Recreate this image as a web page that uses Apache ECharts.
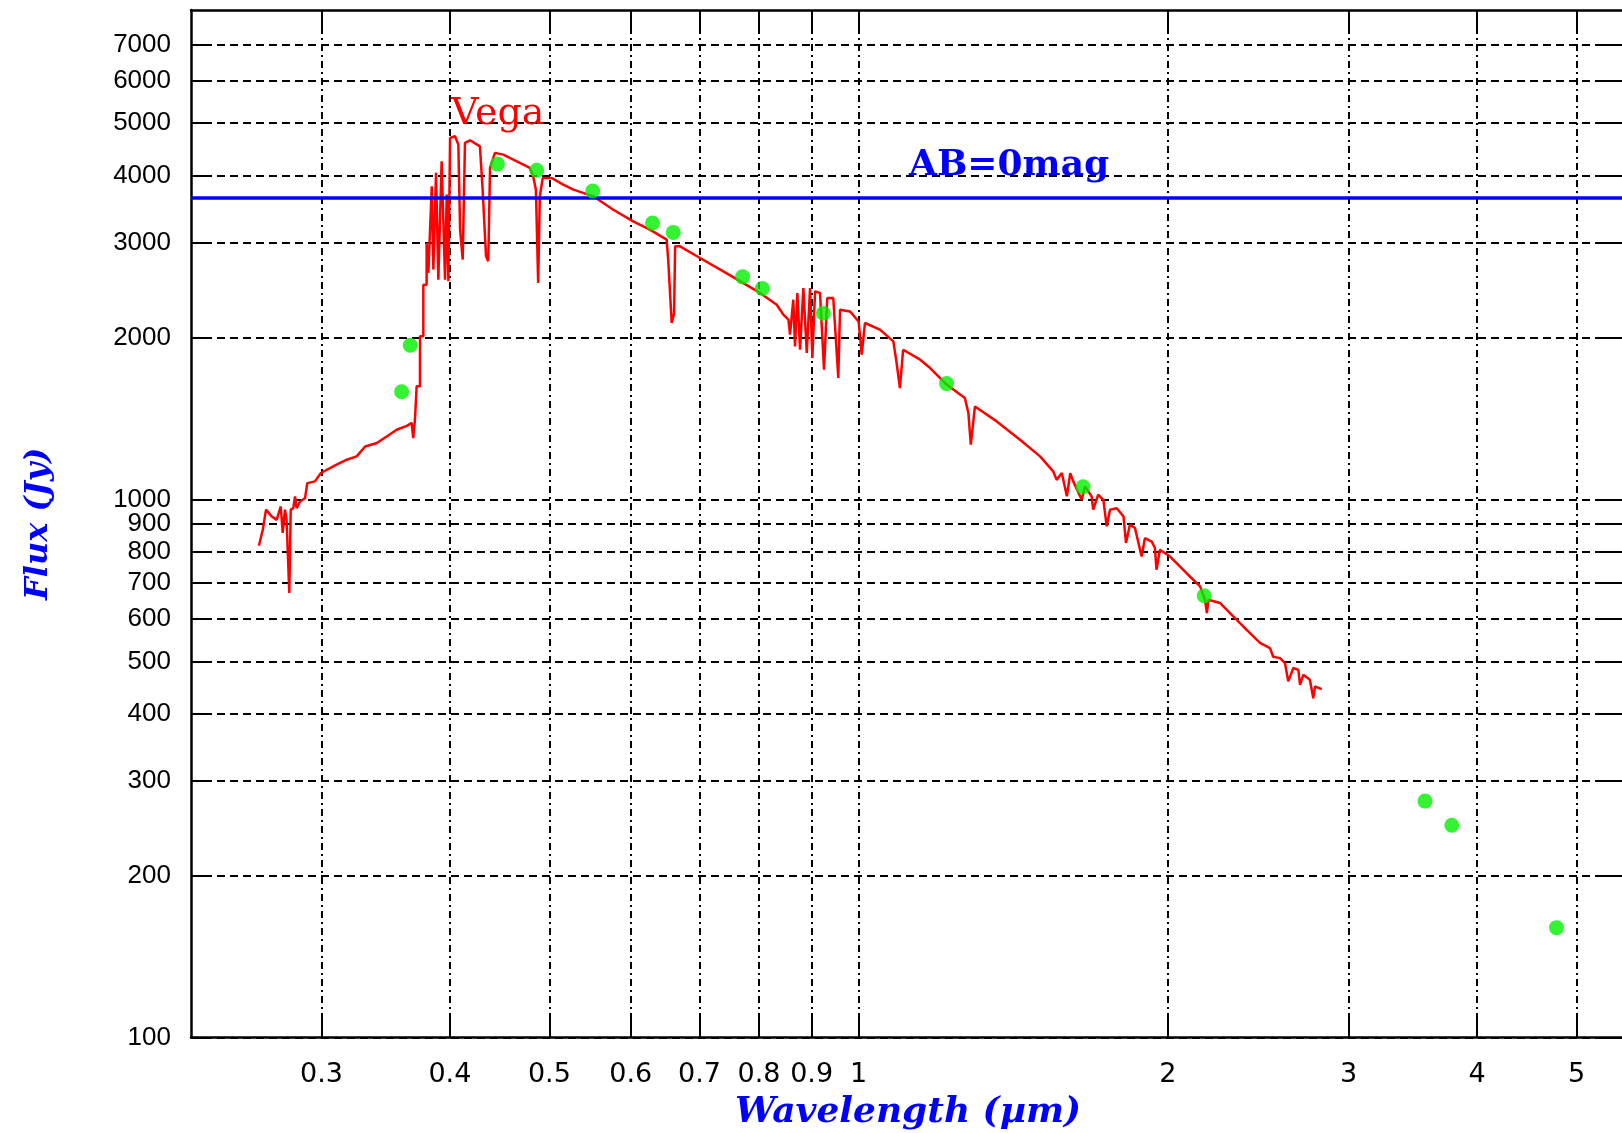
<!DOCTYPE html>
<html>
<head>
<meta charset="utf-8">
<title>Vega</title>
<script src="https://cdn.jsdelivr.net/npm/echarts@6/dist/echarts.min.js"></script>
<style>
  html, body { margin: 0; padding: 0; background: #fff; }
  #main { width: 1622px; height: 1133px; }
</style>
</head>
<body>
<div id="main"></div>
<script>
// tick values
const xTicks = [0.3, 0.4, 0.5, 0.6, 0.7, 0.8, 0.9, 1, 2, 3, 4, 5];
const yTicks = [100, 200, 300, 400, 500, 600, 700, 800, 900, 1000, 2000, 3000, 4000, 5000, 6000, 7000];

// AB = 0 mag level (Jy)
const abFlux = 3631;

// Vega spectrum (um, Jy)
const specWave = [
  0.2607, 0.2630, 0.2649, 0.2684, 0.2713, 0.2738, 0.2750, 0.2764, 0.2774, 0.2791,
  0.2800, 0.2816, 0.2827, 0.2837, 0.2859, 0.2891, 0.2906, 0.2956, 0.2996, 0.3035,
  0.3103, 0.3175, 0.3246, 0.3308, 0.3396, 0.3472, 0.3550, 0.3632, 0.3672, 0.3685,
  0.3699, 0.3713, 0.3713, 0.3741, 0.3741, 0.3769, 0.3769, 0.3797, 0.3797, 0.3812,
  0.3841, 0.3855, 0.3878, 0.3898, 0.3927, 0.3957, 0.3972, 0.3987, 0.4002, 0.4047,
  0.4077, 0.4093, 0.4117, 0.4138, 0.4185, 0.4279, 0.4305, 0.4338, 0.4360, 0.4377,
  0.4426, 0.4509, 0.4648, 0.4786, 0.4822, 0.4851, 0.4876, 0.4894, 0.4926, 0.5025,
  0.5158, 0.5277, 0.5518, 0.5770, 0.6033, 0.6264, 0.6503, 0.6526, 0.6577, 0.6612,
  0.6628, 0.6702, 0.7008, 0.7384, 0.8017, 0.8323, 0.8448, 0.8544, 0.8575, 0.8638,
  0.8672, 0.8717, 0.8770, 0.8835, 0.8903, 0.8969, 0.9015, 0.9070, 0.9171, 0.9254,
  0.9322, 0.9448, 0.9555, 0.9592, 0.9809, 1.0000, 1.0070, 1.0144, 1.049, 1.081,
  1.089, 1.097, 1.105, 1.148, 1.174, 1.218, 1.269, 1.279, 1.286, 1.298,
  1.363, 1.436, 1.502, 1.547, 1.559, 1.577, 1.595, 1.607, 1.618, 1.649,
  1.661, 1.686, 1.692, 1.711, 1.731, 1.744, 1.757, 1.784, 1.811, 1.821,
  1.837, 1.858, 1.886, 1.900, 1.929, 1.943, 1.950, 1.965, 2.010, 2.086,
  2.150, 2.174, 2.183, 2.191, 2.248, 2.316, 2.387, 2.459, 2.515, 2.533,
  2.572, 2.601, 2.620, 2.650, 2.680, 2.690, 2.710, 2.750, 2.771, 2.782,
  2.824
];
const specFlux = [
  820, 878, 957, 929, 916, 970, 866, 957, 916, 670,
  957, 963, 1013, 963, 991, 1005, 1072, 1080, 1119, 1135,
  1160, 1185, 1202, 1254, 1273, 1309, 1347, 1370, 1387, 1300,
  1406, 1413, 1622, 1622, 2009, 2009, 2506, 2506, 2996, 2635,
  3816, 2673, 4043, 2560, 4248, 2560, 3684, 2542, 4696, 4728,
  4563, 3171, 2789, 4597, 4648, 4530, 3763, 2829, 2769, 4129,
  4404, 4372, 4248, 4129, 3983, 3763, 2525, 3657, 3956, 3956,
  3845, 3763, 3657, 3453, 3285, 3171, 3038, 2789, 2127, 2214,
  2953, 2953, 2809, 2653, 2419, 2300, 2204, 2157, 2023, 2350,
  1924, 2418, 1897, 2471, 1871, 2471, 1831, 2435, 2418, 1742,
  2367, 2367, 1681, 2251, 2235, 2141, 1857, 2127, 2067, 1966,
  1792, 1610, 1897, 1818, 1754, 1634, 1543, 1447, 1264, 1488,
  1396, 1291, 1202, 1127, 1087, 1119, 1013, 1119, 1080, 998,
  1057, 1013, 957, 1020, 998, 891, 957, 963, 929, 830,
  897, 885, 783, 847, 835, 812, 740, 806, 783, 729,
  689, 651, 615, 651, 642, 606, 572, 541, 529, 510,
  507, 496, 459, 486, 482, 452, 472, 462, 427, 449,
  444
];

// photometric points (um, Jy)
const photWave = [0.359, 0.366, 0.445, 0.486, 0.551, 0.630, 0.660, 0.771, 0.806, 0.924, 1.218, 1.654, 2.17, 3.56, 3.78, 4.78];
const photFlux = [1585, 1934, 4198, 4090, 3742, 3262, 3134, 2591, 2466, 2218, 1641, 1055, 662, 275, 248, 160];

const xMin = 0.2239, xMax = 5.561;
const yMin = 100, yMax = 8117;

const specData = specWave.map((w, i) => [w, specFlux[i]]);
const photData = photWave.map((w, i) => [w, photFlux[i]]);

const axisNameStyle = {
  color: "#0000ff",
  fontFamily: "DejaVu Serif",
  fontStyle: "italic",
  fontWeight: "bold",
  fontSize: 32
};
const tickLabelStyle = {
  color: "#000",
  fontFamily: "Liberation Sans",
  fontSize: 26,
  formatter: function (v) { return String(v); }
};

var myChart = echarts.init(document.getElementById("main"));
var option = {
  backgroundColor: "#fff",
  animation: false,
  grid: {
    left: 191,
    right: -2,
    top: 10,
    bottom: 95.5,
    outerBoundsMode: "none"
  },
  xAxis: [
    {
      type: "log",
      position: "bottom",
      min: xMin,
      max: xMax,
      axisLine: { show: true, lineStyle: { color: "#000", width: 2.5 } },
      axisTick: { show: true, inside: true, length: 21, customValues: xTicks, lineStyle: { color: "#000", width: 2 } },
      axisLabel: Object.assign({}, tickLabelStyle, { customValues: xTicks, margin: 24, fontFamily: "DejaVu Sans", fontSize: 27 }),
      minorTick: { show: false },
      splitLine: { show: true, lineStyle: { color: "#000", width: 2, type: [7, 4, 2, 4] } }
    },
    {
      type: "log",
      position: "top",
      min: xMin,
      max: xMax,
      axisLine: { show: true, lineStyle: { color: "#000", width: 2.5 } },
      axisTick: { show: true, inside: true, length: 21, customValues: xTicks, lineStyle: { color: "#000", width: 2 } },
      axisLabel: { show: false },
      splitLine: { show: false }
    }
  ],
  yAxis: [
    {
      type: "log",
      position: "left",
      min: yMin,
      max: yMax,
      name: "Flux (Jy)",
      nameLocation: "middle",
      nameGap: 136,
      nameRotate: 90,
      nameTextStyle: axisNameStyle,
      axisLine: { show: true, lineStyle: { color: "#000", width: 2.5 } },
      axisTick: { show: true, inside: true, length: 21, customValues: yTicks, lineStyle: { color: "#000", width: 2 } },
      axisLabel: Object.assign({ customValues: yTicks, margin: 20 }, tickLabelStyle),
      minorTick: { show: false },
      splitLine: { show: true, lineStyle: { color: "#000", width: 2, type: [8, 5] } }
    },
    {
      type: "log",
      position: "right",
      min: yMin,
      max: yMax,
      axisLine: { show: true, lineStyle: { color: "#000", width: 2.5 } },
      axisTick: { show: true, inside: true, length: 21, customValues: yTicks, lineStyle: { color: "#000", width: 2 } },
      axisLabel: { show: false },
      splitLine: { show: false }
    }
  ],
  series: [
    {
      name: "Vega",
      type: "line",
      data: specData,
      symbol: "none",
      clip: true,
      lineStyle: { color: "#ff0000", width: 2.5 },
      z: 2
    },
    {
      name: "AB=0mag",
      type: "line",
      data: [],
      markLine: {
        silent: true,
        symbol: ["none", "none"],
        label: { show: false },
        lineStyle: { color: "#0000ff", width: 3.5, type: "solid" },
        data: [{ yAxis: abFlux }],
        z: 3
      }
    },
    {
      name: "photometry",
      type: "scatter",
      data: photData,
      symbol: "circle",
      symbolSize: 15,
      itemStyle: { color: "#00f000" },
      z: 10
    }
  ],
  graphic: [
    {
      type: "text",
      left: 451,
      top: 95,
      style: { text: "Vega", fill: "#ff0000", font: "normal 38px 'DejaVu Serif'" },
      z: 20
    },
    {
      type: "text",
      left: 909,
      top: 148,
      style: { text: "AB=0mag", fill: "#0000ff", font: "bold 36px 'DejaVu Serif'" },
      z: 20
    },
    // x axis title
    {
      type: "text",
      x: 908,
      y: 1113,
      style: {
        text: "Wavelength (µm)",
        fill: "#0000ff",
        font: "italic bold 36px 'DejaVu Serif'",
        align: "center",
        verticalAlign: "middle"
      },
      z: 20
    }
  ]
};
myChart.setOption(option);
</script>
</body>
</html>
